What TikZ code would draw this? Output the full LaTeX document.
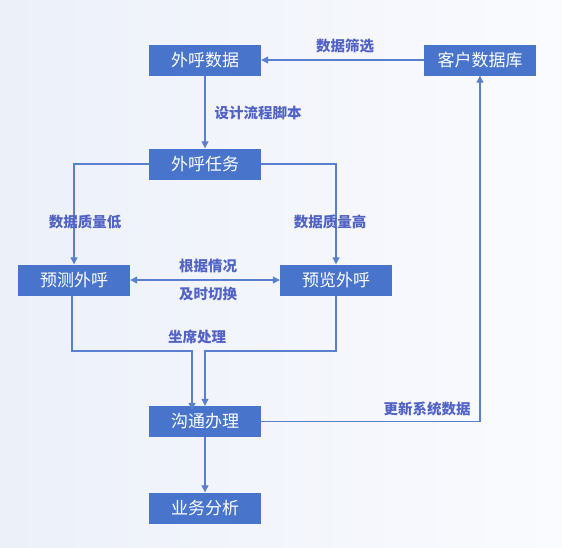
\documentclass[tikz,border=0pt]{standalone}
\usepackage{fontspec}
\setmainfont{Noto Sans CJK SC}
\usetikzlibrary{arrows.meta}
\definecolor{boxblue}{HTML}{4874CB}
\definecolor{linecol}{HTML}{5A7FD0}
\definecolor{lblcol}{HTML}{5263C6}
\definecolor{bgl}{HTML}{ECF0F9}
\definecolor{bgr}{HTML}{FAFBFE}
\begin{document}
\begin{tikzpicture}[x=1pt,y=-1pt,
  box/.style={fill=boxblue, text=white, minimum width=112pt, minimum height=31pt, inner sep=0pt, font=\fontsize{17}{19}\selectfont},
  lbl/.style={text=lblcol, inner sep=0pt, font=\fontsize{14.5}{17}\selectfont\bfseries},
  conn/.style={draw=linecol, line width=1.1pt, -{Triangle[length=7pt,width=7pt]}},
  dconn/.style={draw=linecol, line width=1.1pt, {Triangle[length=7pt,width=7pt]}-{Triangle[length=7pt,width=7pt]}}]
\shade[left color=bgl, right color=bgr] (0,0) rectangle (562,547);
\useasboundingbox (0,0) rectangle (562,547);

\node[box] (data) at (205,60) {外呼数据};
\node[box] (db) at (480,60) {客户数据库};
\node[box] (task) at (205,164) {外呼任务};
\node[box] (pred) at (74,280) {预测外呼};
\node[box] (prev) at (336,280) {预览外呼};
\node[box] (comm) at (205,421.5) {沟通办理};
\node[box] (ana) at (205,508) {业务分析};

\draw[conn] (db.west) -- (data.east);
\draw[conn] (data.south) -- (task.north);
\draw[conn] (task.west) -| (pred.north);
\draw[conn] (task.east) -| (prev.north);
\draw[dconn] (pred.east) -- (prev.west);
\draw[conn] ([xshift=-2pt]pred.south) |- (192,351) -- ([xshift=-13pt,yshift=-4pt]comm.north);
\draw[conn] (prev.south) |- (205,351) -- (comm.north);
\draw[conn] (comm.east) -| (db.south);
\draw[conn] (comm.south) -- (ana.north);

\node[lbl] (l1) at (345,46) {数据筛选};
\node[lbl] (l2) at (258,113) {设计流程脚本};
\node[lbl] (l3) at (85,222) {数据质量低};
\node[lbl] (l4) at (330,222) {数据质量高};
\node[lbl] (l5) at (208,266) {根据情况};
\node[lbl] (l6) at (208,294) {及时切换};
\node[lbl] (l7) at (197,337) {坐席处理};
\node[lbl] (l8) at (427,409) {更新系统数据};
\end{tikzpicture}
\end{document}
